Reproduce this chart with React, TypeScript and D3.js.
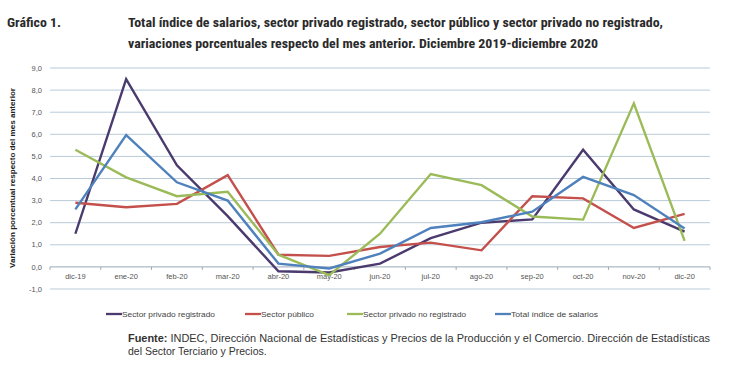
import React from "react";
import * as d3 from "d3";

const categories = ["dic-19","ene-20","feb-20","mar-20","abr-20","may-20","jun-20","jul-20","ago-20","sep-20","oct-20","nov-20","dic-20"];
const privadoRegistrado = [1.5, 8.5, 4.6, 2.3, -0.2, -0.25, 0.15, 1.3, 2.0, 2.15, 5.3, 2.6, 1.6];
const sectorPublico = [2.9, 2.7, 2.85, 4.15, 0.55, 0.5, 0.9, 1.1, 0.75, 3.2, 3.1, 1.76, 2.4];
const privadoNoRegistrado = [5.3, 4.05, 3.2, 3.4, 0.55, -0.37, 1.5, 4.2, 3.7, 2.28, 2.14, 7.4, 1.18];
const totalIndice = [2.6, 5.96, 3.83, 3.0, 0.15, -0.07, 0.6, 1.76, 2.02, 2.5, 4.07, 3.25, 1.74];
const yTicks = [-1, 0, 1, 2, 3, 4, 5, 6, 7, 8, 9];

const seriesNames = ["Sector privado registrado", "Sector público", "Sector privado no registrado", "Total índice de salarios"];
const seriesColors = ["#4a3a6e", "#c4504c", "#9bbb59", "#4f81bd"];
const seriesValues = [privadoRegistrado, sectorPublico, privadoNoRegistrado, totalIndice];

const NARROW = "'Liberation Sans Narrow','Roboto Condensed','Arial Narrow','Liberation Sans',Arial,sans-serif";
const SANS = "'Liberation Sans',Arial,Helvetica,sans-serif";

export default function App() {
  const W = 730, H = 367;
  const left = 50, right = 710, top = 68, bottom = 289;
  const x = d3.scaleBand<string>().domain(categories).range([left, right]).padding(0);
  const y = d3.scaleLinear().domain([-1, 9]).range([bottom, top]);
  const cx = (c: string) => (x(c) as number) + x.bandwidth() / 2;
  const line = d3.line<number>().x((_, i) => cx(categories[i])).y((v) => y(v));
  const fmt = (v: number) => v.toFixed(1).replace(".", ",");

  const legendX = [106, 245, 347, 495];
  const legendW = [93, 53, 103, 87];

  return (
    <svg width={W} height={H} style={{ position: "absolute", left: 0, top: 0, background: "#fff" }}>
      <rect x={0} y={0} width={W} height={H} fill="#fff" />
      <text x={7} y={27} fontFamily={NARROW} fontWeight="bold" fontSize={12.5} fill="#2a2a2a" textLength={54} lengthAdjust="spacingAndGlyphs">Gráfico 1.</text>
      <text x={128} y={27} fontFamily={NARROW} fontWeight="bold" fontSize={12.5} fill="#2a2a2a" textLength={535} lengthAdjust="spacingAndGlyphs">Total índice de salarios, sector privado registrado, sector público y sector privado no registrado,</text>
      <text x={128} y={48} fontFamily={NARROW} fontWeight="bold" fontSize={12.5} fill="#2a2a2a" textLength={470} lengthAdjust="spacingAndGlyphs">variaciones porcentuales respecto del mes anterior. Diciembre 2019-diciembre 2020</text>

      {yTicks.map((t) => (
        <g key={t}>
          <line x1={left} x2={right} y1={y(t)} y2={y(t)} stroke={t === 0 ? "#9aa9b6" : "#b9cbd8"} strokeWidth={1} />
          <text x={42} y={y(t)} dy="0.35em" textAnchor="end" fontFamily={SANS} fontSize={7.5} fill="#555">{fmt(t)}</text>
        </g>
      ))}
      {d3.range(categories.length + 1).map((i) => {
        const xx = left + i * x.bandwidth();
        return <line key={i} x1={xx} x2={xx} y1={y(0)} y2={y(0) + 3} stroke="#9aa9b6" strokeWidth={1} />;
      })}
      {categories.map((c) => (
        <text key={c} x={cx(c)} y={y(0) + 12} textAnchor="middle" fontFamily={SANS} fontSize={7.5} fill="#555">{c}</text>
      ))}

      <text transform={`translate(15,178) rotate(-90)`} textAnchor="middle" fontFamily={SANS} fontWeight="bold" fontSize={7.5} fill="#222" textLength={180} lengthAdjust="spacingAndGlyphs">Variación porcentual respecto del mes anterior</text>

      {seriesValues.map((vals, k) => (
        <path key={k} d={line(vals) as string} fill="none" stroke={seriesColors[k]} strokeWidth={2.4} strokeLinejoin="miter" />
      ))}

      {seriesNames.map((n, k) => (
        <g key={n}>
          <line x1={legendX[k]} x2={legendX[k] + 16} y1={314} y2={314} stroke={seriesColors[k]} strokeWidth={2.3} />
          <text x={legendX[k] + 16} y={314} dy="0.35em" fontFamily={SANS} fontWeight="normal" fontSize={7.5} fill="#444" textLength={legendW[k]} lengthAdjust="spacingAndGlyphs">{n}</text>
        </g>
      ))}

      <text x={128} y={342} fontFamily={SANS} fontSize={10.5} fill="#333" textLength={582} lengthAdjust="spacingAndGlyphs">
        <tspan fontWeight="bold">Fuente:</tspan> INDEC, Dirección Nacional de Estadísticas y Precios de la Producción y el Comercio. Dirección de Estadísticas
      </text>
      <text x={128} y={355} fontFamily={SANS} fontSize={10.5} fill="#333">del Sector Terciario y Precios.</text>
    </svg>
  );
}
